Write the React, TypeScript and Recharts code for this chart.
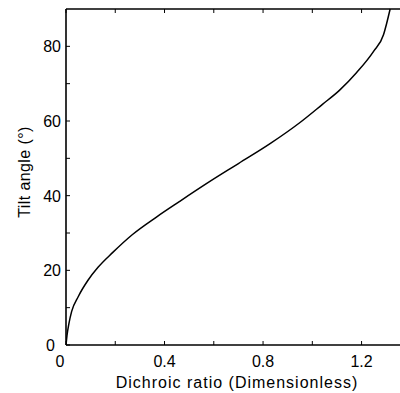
import React from "react";
import { LineChart, Line, XAxis, YAxis, Label, ReferenceLine } from "recharts";

// values
const ratio = [0, 0.004, 0.012, 0.023, 0.05, 0.09, 0.13, 0.19, 0.27, 0.37, 0.46, 0.57, 0.7, 0.83, 0.95, 1.04, 1.11, 1.18, 1.248, 1.289, 1.302, 1.316];
const tilt = [0, 2.5, 5.8, 9, 13, 17.4, 20.8, 24.8, 29.6, 34.4, 38.4, 43.2, 48.6, 54, 59.6, 64.4, 68.2, 73, 78.6, 83.1, 86.2, 90];

const xTicks = [0, 0.2, 0.4, 0.6, 0.8, 1.0, 1.2];
const xLabels = [0, 0.4, 0.8, 1.2];
const yTicks = [0, 10, 20, 30, 40, 50, 60, 70, 80];
const yLabels = [0, 20, 40, 60, 80];

const data = ratio.map((d, i) => ({ d, a: tilt[i] }));

const font = "'Liberation Sans', Arial, Helvetica, sans-serif";
const TOP = 9; // top edge of the plot box (chart margin)

// bottom tick + matching inward tick on the top frame
const BottomTick = (props: any) => {
  const { x, y, payload } = props;
  const v = payload.value;
  return (
    <g>
      <line x1={x} x2={x} y1={y} y2={y - 4} stroke="#000" strokeWidth={1} />
      <line x1={x} x2={x} y1={TOP} y2={TOP + 4} stroke="#000" strokeWidth={1} />
      {xLabels.includes(v) && (
        <text x={v === 0 ? x - 6 : x} y={y + 22} textAnchor="middle" fontSize={16} fontFamily={font} fill="#000">
          {String(v)}
        </text>
      )}
    </g>
  );
};

const LeftTick = (props: any) => {
  const { x, y, payload } = props;
  const v = payload.value;
  return (
    <g>
      <line x1={x} x2={x + 4} y1={y} y2={y} stroke="#000" strokeWidth={1} />
      {yLabels.includes(v) && (
        <text x={v === 0 ? x - 11 : x - 5} y={y + 6} textAnchor="end" fontSize={16} fontFamily={font} fill="#000">
          {String(v)}
        </text>
      )}
    </g>
  );
};

export default function App() {
  return (
    <div style={{ position: "absolute", left: 0, top: 0, background: "#fff" }}>
      <LineChart width={400} height={393} data={data} margin={{ top: TOP, right: 0, left: 0, bottom: 0 }}>
        <XAxis
          dataKey="d"
          type="number"
          domain={[0, 1.356]}
          ticks={xTicks}
          allowDataOverflow
          height={48}
          tickSize={0}
          tickMargin={0}
          tickLine={false}
          tick={<BottomTick />}
          axisLine={{ stroke: "#000", strokeWidth: 1.6 }}
        >
          <Label
            content={() => (
              <text x={237} y={388} textAnchor="middle" fontSize={16} fontFamily={font} letterSpacing={1} fill="#000">
                Dichroic ratio (Dimensionless)
              </text>
            )}
          />
        </XAxis>
        <YAxis
          dataKey="a"
          type="number"
          domain={[0, 90]}
          ticks={yTicks}
          width={66}
          tickSize={0}
          tickMargin={0}
          tickLine={false}
          tick={<LeftTick />}
          axisLine={{ stroke: "#000", strokeWidth: 1.6 }}
        >
          <Label
            content={() => (
              <text
                x={30}
                y={172}
                transform="rotate(-90, 30, 172)"
                textAnchor="middle"
                fontSize={16}
                fontFamily={font}
                letterSpacing={0.4}
                fill="#000"
              >
                Tilt angle (°)
              </text>
            )}
          />
        </YAxis>
        <ReferenceLine y={90} stroke="#000" strokeWidth={1.6} />
        <Line
          dataKey="a"
          type="monotone"
          stroke="#000"
          strokeWidth={1.5}
          dot={false}
          isAnimationActive={false}
        />
      </LineChart>
    </div>
  );
}
